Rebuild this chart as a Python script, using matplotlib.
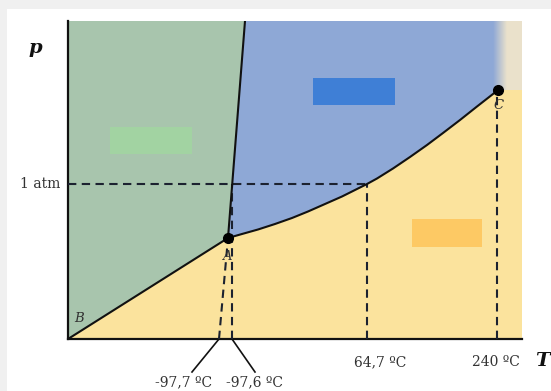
import matplotlib
matplotlib.use("Agg")
import matplotlib.pyplot as plt
import numpy as np
from matplotlib.patches import Rectangle, Polygon

# ---- schematic data (arbitrary diagram units) ----
triple_A = (160, 101)
critical_C = (430, 249)
origin_B = (0, 0)
melt_top = (177, 318)
p_1atm = 155
vap_T = [160, 174, 190, 207, 224, 240, 257, 274, 290, 299, 309, 325, 342, 359, 375, 392, 409, 425, 430]
vap_p = [101, 105, 109.5, 115, 121, 127.5, 135, 142.5, 150.5, 155, 160.5, 170.5, 182, 194, 206, 219, 232.5, 245, 249]
T_marks = [151, 164, 299, 429]
T_labels = ["-97,7 ºC", "-97,6 ºC", "64,7 ºC", "240 ºC"]
x_max, y_max = 454, 318

col_solid = "#a8c5ad"
col_liquid = "#8ea8d6"
col_gas = "#fbe39d"
col_super = "#eae1cb"

fig = plt.figure(figsize=(5.51, 3.91), dpi=100)
fig.patch.set_facecolor("#f0f0f0")
fig.patches.append(Rectangle((7/551, 0), 1, (391-9)/391, transform=fig.transFigure,
                             facecolor="white", edgecolor="none", zorder=-10))
ax = fig.add_axes([68/551, (391-339)/391, (522-68)/551, (339-21)/391])
ax.set_zorder(1)
ax.set_facecolor(col_gas)
for s in ["top", "right"]:
    ax.spines[s].set_visible(False)
for s in ["left", "bottom"]:
    ax.spines[s].set_linewidth(1.6)
    ax.spines[s].set_color("#111111")
ax.set_xticks([])
ax.set_yticks([])

# solid region
ax.add_patch(Polygon([origin_B, triple_A, melt_top, (0, y_max)], closed=True,
                     facecolor=col_solid, edgecolor="none", zorder=1))
# liquid region
liq = [triple_A, melt_top, (critical_C[0], y_max)] + list(zip(vap_T[::-1], vap_p[::-1]))
ax.add_patch(Polygon(liq, closed=True, facecolor=col_liquid, edgecolor="none", zorder=1))
# supercritical region with gradient
ax.add_patch(Rectangle((critical_C[0], critical_C[1]), x_max - critical_C[0], y_max - critical_C[1],
                       facecolor=col_super, edgecolor="none", zorder=1))
c1 = np.array(matplotlib.colors.to_rgb(col_liquid))
c2 = np.array(matplotlib.colors.to_rgb(col_super))
t = np.linspace(0, 1, 40)
grad = (c1[None, :] * (1 - t[:, None]) + c2[None, :] * t[:, None])[None, :, :]
ax.imshow(grad, extent=[425, 439, critical_C[1], y_max], aspect="auto", zorder=1.5,
          interpolation="bilinear")
ax.set_xlim(0, x_max)
ax.set_ylim(0, y_max)

# placeholder boxes
ax.add_patch(Rectangle((42, 185), 82, 27, facecolor="#a2d3a2", edgecolor="none", zorder=2))
ax.add_patch(Rectangle((245, 234), 82, 27, facecolor="#3f7fd6", edgecolor="none", zorder=2))
ax.add_patch(Rectangle((344, 92), 70, 28, facecolor="#fdc964", edgecolor="none", zorder=2))

# dashed guides
dash = dict(color="#1c2230", lw=1.5, linestyle=(0, (4, 2.6)), zorder=3)
ax.plot([0, T_marks[2]], [p_1atm, p_1atm], **dash)
ax.plot([T_marks[0], triple_A[0]], [0, triple_A[1]], **dash)
ax.plot([T_marks[1], T_marks[1]], [0, p_1atm], **dash)
ax.plot([T_marks[2], T_marks[2]], [0, p_1atm], **dash)
ax.plot([T_marks[3], T_marks[3]], [0, critical_C[1]], **dash)

# phase boundaries
ax.plot([origin_B[0], triple_A[0]], [origin_B[1], triple_A[1]], color="#111111", lw=1.5, zorder=4)
ax.plot([triple_A[0], melt_top[0]], [triple_A[1], melt_top[1]], color="#111111", lw=1.5, zorder=4)
ax.plot(vap_T, vap_p, color="#111111", lw=1.5, zorder=4, solid_joinstyle="round")
ax.plot([triple_A[0], critical_C[0]], [triple_A[1], critical_C[1]], "o", color="black",
        ms=7, zorder=5, clip_on=False)

# labels
serif = "DejaVu Serif"
lab = dict(fontsize=9.5, style="italic", family=serif, color="#333333", ha="center", va="center", zorder=6)
ax.text(11, 21, "B", **lab)
ax.text(triple_A[0] - 1, triple_A[1] - 18, "A", **lab)
ax.text(critical_C[0] + 1, critical_C[1] - 16, "C", **lab)

txt = dict(fontsize=10, family=serif, color="#333333", va="center", clip_on=False)
ax.text(-8, p_1atm, "1 atm", ha="right", **txt)
ax.text(-33, 291, "p", fontsize=14, family=serif, style="italic", weight="bold", color="#111111",
        ha="center", va="center", clip_on=False)
ax.text(474, -22, "T", fontsize=14, family=serif, style="italic", weight="bold", color="#111111",
        ha="center", va="center", clip_on=False)

# leader lines for close labels
ax.plot([T_marks[0], T_marks[0] - 27], [0, -33], color="#111111", lw=1.2, clip_on=False)
ax.plot([T_marks[1], T_marks[1] + 23], [0, -33], color="#111111", lw=1.2, clip_on=False)
ax.text(116, -43, T_labels[0], ha="center", **txt)
ax.text(186, -43, T_labels[1], ha="center", **txt)
ax.text(312, -23, T_labels[2], ha="center", **txt)
ax.text(428, -23, T_labels[3], ha="center", **txt)

fig.savefig("out.png", dpi=100, facecolor=fig.get_facecolor())
